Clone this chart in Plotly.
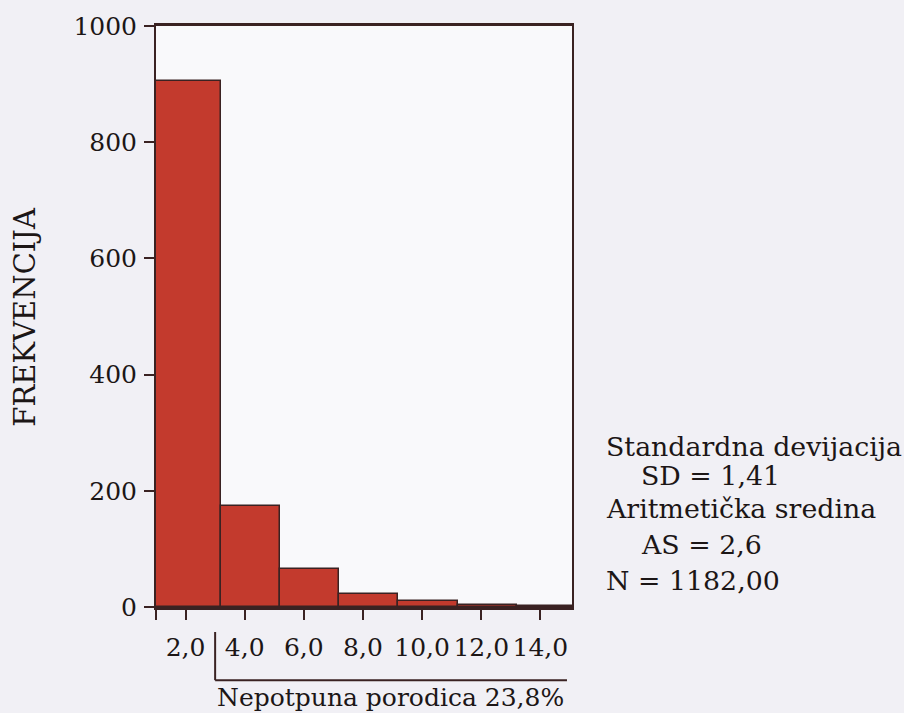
import plotly.graph_objects as go

# histogram: bin centres, frequencies, tick labels
bin_centers = [2, 4, 6, 8, 10, 12, 14]
frequencies = [905, 174, 66, 22, 10, 4, 1]
tick_labels = ["2,0", "4,0", "6,0", "8,0", "10,0", "12,0", "14,0"]

y_ticks = [0, 200, 400, 600, 800, 1000]

stats_lines = [
    ("Standardna devijacija", 0),
    ("SD = 1,41", 1),
    ("Aritmetička sredina", 0),
    ("AS = 2,6", 1),
    ("N = 1182,00", 0),
]
group_label = "Nepotpuna porodica 23,8%"

FONT = "DejaVu Serif"
INK = "#1c1616"
LINE = "#3a2222"
BAR = "#c33a2d"
PAPER = "#f1f0f5"

X_RANGE = [1.0, 15.07]


def xpaper(v):
    return (v - X_RANGE[0]) / (X_RANGE[1] - X_RANGE[0])


# first bar starts at the axis, the rest are regular width-2 bins
widths = [2.2] + [2.0] * (len(bin_centers) - 1)
offsets = [-1.0] + [-0.8] * (len(bin_centers) - 1)

fig = go.Figure()
fig.add_trace(go.Bar(
    x=bin_centers,
    y=frequencies,
    width=widths,
    offset=offsets,
    marker=dict(color=BAR, line=dict(color=LINE, width=1.5)),
    showlegend=False,
))

fig.update_layout(
    width=904,
    height=713,
    margin=dict(l=156, r=332, t=26, b=106),
    paper_bgcolor=PAPER,
    plot_bgcolor="#f9f9fb",
    font=dict(family=FONT, size=25, color=INK),
    bargap=0,
)

fig.update_xaxes(
    range=X_RANGE,
    tickmode="array",
    tickvals=[1] + bin_centers,
    ticktext=[""] + tick_labels,
    ticks="outside",
    ticklen=10,
    tickwidth=2,
    tickcolor=LINE,
    ticklabelstandoff=6,
    showline=True,
    linewidth=3,
    linecolor=LINE,
    mirror=True,
    showgrid=False,
    zeroline=False,
    tickfont=dict(family=FONT, size=25, color=INK),
)
fig.update_yaxes(
    range=[0, 1000],
    tickmode="array",
    tickvals=y_ticks,
    ticktext=[str(v) for v in y_ticks],
    ticks="outside",
    ticklen=10,
    tickwidth=2,
    tickcolor=LINE,
    ticklabelstandoff=2,
    showline=True,
    linewidth=2,
    linecolor=LINE,
    mirror=True,
    showgrid=False,
    zeroline=False,
    tickfont=dict(family=FONT, size=25, color=INK),
)

# y axis title
fig.add_annotation(
    text="FREKVENCIJA", textangle=-90,
    xref="paper", yref="paper", x=-0.317, y=0.5,
    xanchor="center", yanchor="middle", showarrow=False,
    font=dict(family=FONT, size=29, color=INK),
)

# bracket under the x labels marking bins above 2
bx = xpaper(3.0)
fig.add_shape(type="line", xref="paper", yref="paper",
              x0=bx, x1=bx, y0=-0.043, y1=-0.126,
              line=dict(color=LINE, width=2))
fig.add_shape(type="line", xref="paper", yref="paper",
              x0=bx, x1=xpaper(14.9), y0=-0.126, y1=-0.126,
              line=dict(color=LINE, width=2))
fig.add_annotation(
    text=group_label, xref="paper", yref="paper",
    x=bx, y=-0.155, xanchor="left", yanchor="middle", showarrow=False,
    font=dict(family=FONT, size=25, color=INK),
)

# summary statistics on the right
line_y = [0.277, 0.226, 0.169, 0.108, 0.045]
for (txt, indent), yy in zip(stats_lines, line_y):
    fig.add_annotation(
        text=txt, xref="paper", yref="paper",
        x=1.077 + 0.085 * indent, y=yy,
        xanchor="left", yanchor="middle", showarrow=False,
        font=dict(family=FONT, size=26.8, color=INK),
    )

fig.write_html(
    "out.html",
    config={"displayModeBar": False},
    post_script=f"document.body.style.margin='0';"
                f"document.body.style.background='{PAPER}';",
)
